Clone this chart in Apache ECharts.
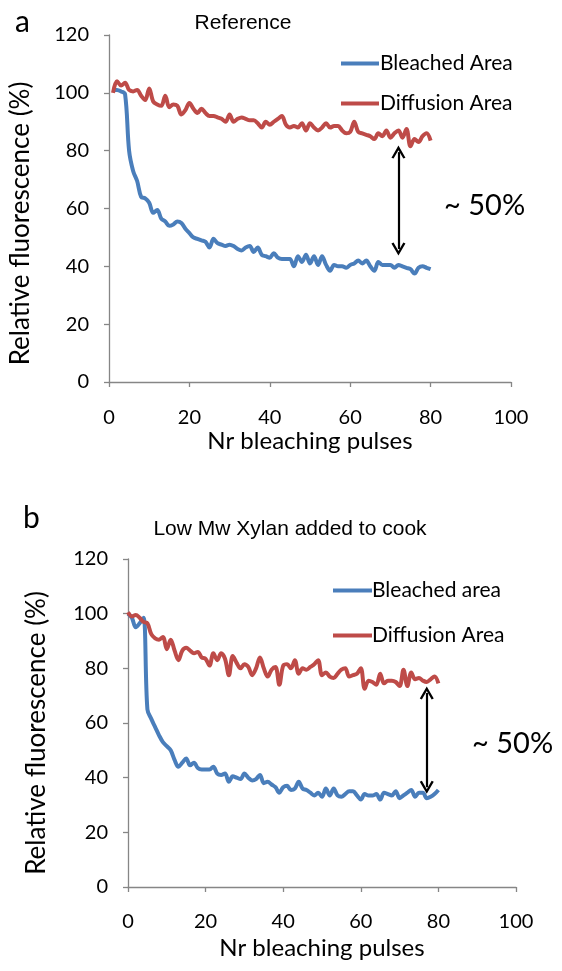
<!DOCTYPE html>
<html>
<head>
<meta charset="utf-8">
<script src="https://cdn.jsdelivr.net/npm/echarts@6/dist/echarts.min.js"></script>
<style>html,body{margin:0;padding:0;background:#fff}#c{width:562px;height:971px}</style>
</head>
<body>
<div id="c"></div>
<script>
// Panel a (Reference): x = 1..80
const xA = Array.from({length: 80}, (_, i) => i + 1);
const bleachedA = [101,101,100.5,99.5,80,73,69.5,64,63.5,62,58.5,59.5,56.5,55.5,54,54.5,55.5,55,53,51.5,
  50,49.5,49,48.5,46.5,49.5,48,47.5,47,47.5,47,46,45.5,46.5,47,45,46.5,44,43.5,43,
  44.5,43,42.5,42.5,42.5,40,43.5,41.5,44,41,43.5,40.5,43.5,40.5,38.5,40.5,40,40,39.5,40.5,
  41,42,41,42,40,38.5,41.5,40.5,40.5,40.5,39.5,40.5,40,39.5,39,37.5,39.5,40,39.5,39];
const diffusionA = [100,104,102.5,103.5,101,100.5,101,99,97.5,101.5,97,96,95.5,99,95,96,95.5,92.5,94,96.5,
  94.5,93,94.5,93,92,92,91.5,91,90,92.5,90,91,91.5,91,90.5,90.5,89.5,88,90,89,
  90,91,92,89,88,88.5,88,89.5,87,89.5,88,87,88,89.5,88,88.5,88.5,87,86,86.5,
  90,86.5,86,85.5,85,84,86,85,87,84.5,86,87,84.5,87.5,81.5,84,83,85,86,83.5];

// Panel b (Low Mw Xylan added to cook): x = 0..80
const xB = Array.from({length: 81}, (_, i) => i);
const bleachedB = [100,98.5,95,96.5,98.5,65,61.5,58.5,55.5,53,51.5,50,46.5,44,45.5,47,44.5,45.5,43.5,43,
  43,43,44,41.5,41,41.5,38.5,40.5,40,39.5,41.5,40,39,39.5,41,38,38.5,37.5,36.5,34.5,
  36.5,37,35.5,36,38.5,36,35.5,34.5,33.5,34.5,33,36,33.5,36,33.5,33,34,35,35,33.5,
  32,34,33.5,33.5,34,32,34.5,34,33.5,35,32.5,33.5,34.5,35.5,33,34.5,34.5,32.5,33,34,35.5];
const diffusionB = [100.5,99,99.5,98.5,97,96.5,92.5,91,90.5,91.5,87,90.5,86.5,83,86.5,87.5,86.5,85.5,86,84,
  83.5,81,85.5,83,85.5,83.5,77.5,84.5,82,80,81.5,80.5,77.5,80,84,80,77,79.5,80.5,74,
  81,81.5,80,83,78,80,79.5,80.5,81.5,83,77.5,78.5,77,76.5,78,79.5,80,77,77.5,78,
  80,72.5,75.5,75,74,78,74.5,75.5,75.5,75,73.5,79.5,73.5,78.5,76,76.5,75.5,75,76,77,74.5];

// annotation arrows (data coords): [x, yTop, yBottom]
const arrowA = [72, 79.5, 46];
const arrowB = [77, 71, 36.5];

const xTicks = [0, 20, 40, 60, 80, 100];
const yTicks = [0, 20, 40, 60, 80, 100, 120];

const BLUE = '#4A7EBB', RED = '#BE4B48', AX = '#868686';
const TF = 'Lato, "Open Sans", sans-serif';
const AF = '"Liberation Sans", Arial, sans-serif';
const chevron = 'path://M0,10 L5,0 L10,10 L8.5,10.8 L5,3.8 L1.5,10.8 Z';

function zip(xs, ys) { return xs.map((x, i) => [x, ys[i]]); }

function xAxis(gi, gap, margin) {
  return {
    type: 'value', gridIndex: gi, min: xTicks[0], max: xTicks[xTicks.length - 1], interval: 20,
    name: 'Nr bleaching pulses', nameLocation: 'middle', nameGap: gap,
    nameTextStyle: {fontFamily: TF, fontSize: 24, color: '#000'},
    axisLine: {lineStyle: {color: AX, width: 1.3}},
    axisTick: {show: true, length: 5, lineStyle: {color: AX, width: 1.3}},
    axisLabel: {fontFamily: TF, fontSize: 20, color: '#000', margin: margin},
    splitLine: {show: false}
  };
}
function yAxis(gi, gap, pad) {
  return {
    type: 'value', gridIndex: gi, min: yTicks[0], max: yTicks[yTicks.length - 1], interval: 20,
    name: 'Relative fluorescence (%)', nameLocation: 'middle', nameGap: gap,
    nameTextStyle: {fontFamily: TF, fontSize: 26, color: '#000', padding: [0, pad, 0, 0]},
    axisLine: {show: true, lineStyle: {color: AX, width: 1.3}},
    axisTick: {show: true, length: 5, lineStyle: {color: AX, width: 1.3}},
    axisLabel: {fontFamily: TF, fontSize: 20, color: '#000', margin: 20},
    splitLine: {show: false}
  };
}
function line(name, gi, data, color, extra) {
  return Object.assign({
    type: 'line', name: name, xAxisIndex: gi, yAxisIndex: gi, data: data,
    showSymbol: false, symbol: 'none', smooth: 0.35,
    lineStyle: {color: color, width: 4}, itemStyle: {color: color}, z: 3
  }, extra || {});
}
function arrow(a) {
  return {
    silent: true, animation: false, symbol: [chevron, chevron], symbolSize: [14, 13],
    lineStyle: {color: '#000', width: 2.2, type: 'solid'}, label: {show: false},
    data: [[{coord: [a[0], a[1]]}, {coord: [a[0], a[2]]}]]
  };
}

const chart = echarts.init(document.getElementById('c'));
chart.setOption({
  animation: false,
  title: [
    {text: 'Reference', left: 238, top: 8, textAlign: 'center',
     textStyle: {fontFamily: AF, fontSize: 21, fontWeight: 'normal', color: '#000'}},
    {text: 'Low Mw Xylan added to cook', left: 285, top: 514, textAlign: 'center',
     textStyle: {fontFamily: AF, fontSize: 21, fontWeight: 'normal', color: '#000'}},
    {text: 'a', left: 10, top: 2, textStyle: {fontFamily: TF, fontSize: 30, fontWeight: 'normal', color: '#000'}},
    {text: 'b', left: 18, top: 498, textStyle: {fontFamily: TF, fontSize: 30, fontWeight: 'normal', color: '#000'}}
  ],
  legend: [
    {left: 336, top: 48, orient: 'vertical', itemGap: 19, itemWidth: 38, itemHeight: 4, icon: 'rect',
     data: ['Bleached Area', 'Diffusion Area'],
     textStyle: {fontFamily: TF, fontSize: 21, color: '#000', padding: [0, 0, 0, -4]}},
    {left: 328, top: 575, orient: 'vertical', itemGap: 24, itemWidth: 39, itemHeight: 4, icon: 'rect',
     data: ['Bleached area', 'Diffusion Area B'],
     formatter: function (n) { return n === 'Diffusion Area B' ? 'Diffusion Area' : n; },
     textStyle: {fontFamily: TF, fontSize: 21, color: '#000', padding: [0, 0, 0, -5]}}
  ],
  grid: [
    {left: 109, width: 402, top: 35, height: 347},
    {left: 128, width: 388, top: 559, height: 328}
  ],
  xAxis: [xAxis(0, 44, 26), xAxis(1, 49, 25)],
  yAxis: [yAxis(0, 75, 30), yAxis(1, 78, 20)],
  graphic: [
    {type: 'text', left: 444, top: 191, style: {text: '~ 50%', fontFamily: TF, fontSize: 29, fill: '#000'}},
    {type: 'text', left: 472, top: 729, style: {text: '~ 50%', fontFamily: TF, fontSize: 29, fill: '#000'}}
  ],
  series: [
    line('Bleached Area', 0, zip(xA, bleachedA), BLUE),
    line('Diffusion Area', 0, zip(xA, diffusionA), RED, {markLine: arrow(arrowA)}),
    line('Bleached area', 1, zip(xB, bleachedB), BLUE),
    line('Diffusion Area B', 1, zip(xB, diffusionB), RED, {markLine: arrow(arrowB)})
  ]
});
</script>
</body>
</html>
